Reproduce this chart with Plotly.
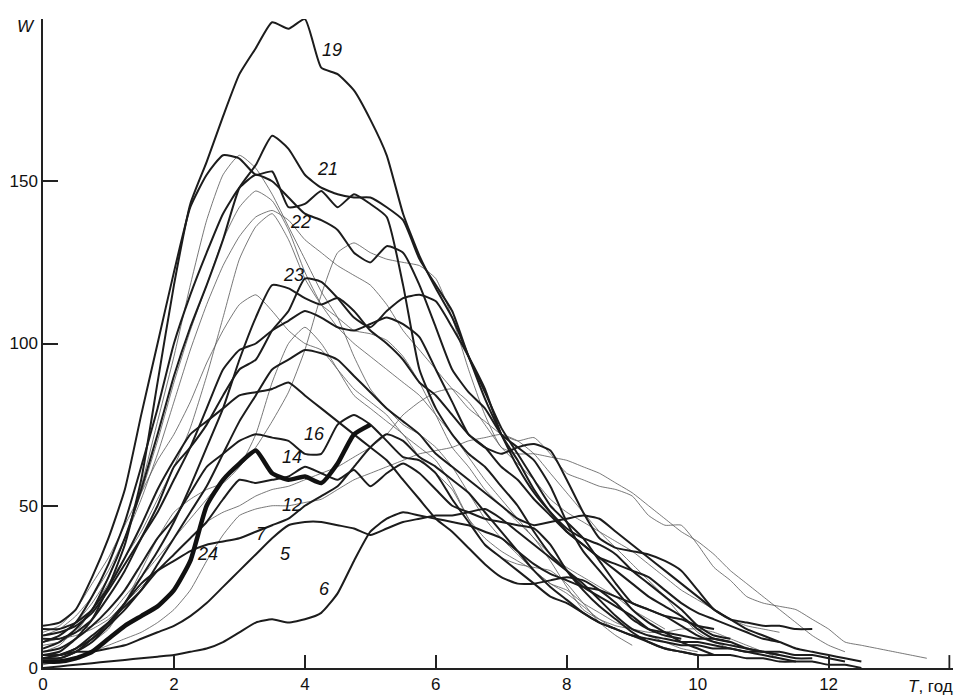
import numpy as np
import plotly.graph_objects as go

# Sampling step of the curves (years)
T_STEP = 0.25

# Wolf number W for each cycle, sampled every T_STEP years from cycle minimum
w1 = [8, 9, 10, 12, 15, 20, 25, 30, 35, 40, 45, 48, 50, 53, 55, 56, 58, 60, 62, 65, 68, 72, 78, 82, 85, 86, 82, 75, 68, 63, 58, 52, 48, 45, 42, 39, 36, 32, 28, 24, 21, 18, 15, 13, 12, 11]
w2 = [11, 13, 18, 26, 34, 44, 54, 64, 72, 82, 94, 104, 112, 115, 110, 104, 100, 98, 92, 86, 82, 78, 72, 68, 64, 56, 46, 38, 34, 32, 31, 30, 26, 20, 14, 10, 7]
w3 = [8, 10, 14, 20, 28, 40, 56, 76, 96, 118, 138, 152, 158, 154, 146, 136, 126, 116, 108, 96, 86, 80, 75, 72, 68, 62, 54, 46, 40, 35, 30, 26, 23, 19, 15, 12, 10]
w4 = [10, 12, 16, 22, 30, 40, 52, 66, 82, 98, 112, 124, 133, 139, 141, 138, 132, 128, 124, 121, 118, 112, 104, 98, 92, 86, 80, 76, 72, 70, 71, 66, 60, 58, 56, 55, 53, 47, 44, 44, 38, 31, 27, 22, 20, 19, 18, 15, 12, 8, 7, 6, 5, 4, 3]
w5 = [4, 4, 5, 5, 6, 7, 9, 11, 13, 16, 20, 25, 30, 35, 40, 44, 45, 45, 44, 43, 41, 43, 45, 46, 47, 47, 48, 49, 46, 42, 38, 34, 30, 26, 21, 16, 12, 10, 9, 8, 8, 7, 6, 5, 4, 3, 2, 2, 1, 1, 0]
w6 = [0, 0.5, 1, 1.5, 2, 2.5, 3, 3.5, 4, 5, 6, 8, 11, 14, 15, 14, 15, 17, 23, 33, 42, 46, 48, 47, 46, 45, 44, 42, 40, 36, 32, 29, 27, 25, 24, 22, 20, 18, 16, 13, 10, 8, 7, 6, 5, 5, 4, 4, 3, 2]
w7 = [1, 2, 3, 5, 7, 9, 11, 14, 18, 24, 33, 41, 47, 49, 50, 50, 51, 52, 55, 58, 60, 62, 64, 66, 67, 68, 70, 71, 72, 70, 66, 60, 54, 48, 42, 37, 32, 27, 22, 16, 11, 8, 6]
w8 = [7, 8, 11, 18, 28, 40, 54, 70, 88, 104, 118, 132, 142, 147, 144, 135, 122, 112, 105, 100, 96, 92, 88, 84, 78, 72, 65, 58, 52, 46, 40, 35, 31, 28, 25, 22, 18, 15, 12]
w9 = [8, 9, 11, 13, 16, 22, 28, 34, 40, 46, 52, 58, 62, 68, 76, 85, 98, 115, 128, 131, 128, 126, 125, 124, 120, 108, 92, 78, 68, 66, 66, 65, 64, 62, 60, 57, 54, 50, 46, 42, 39, 35, 30, 26, 22, 18, 14, 10, 7, 5]
w10 = [3, 4, 6, 10, 14, 19, 24, 32, 40, 48, 56, 66, 76, 84, 92, 95, 98, 97, 95, 90, 85, 80, 76, 72, 66, 62, 58, 54, 50, 46, 44, 45, 46, 47, 46, 42, 38, 34, 30, 26, 22, 18, 15, 12, 10, 8]
w11 = [5, 7, 12, 18, 26, 34, 42, 52, 62, 74, 90, 108, 126, 136, 140, 132, 120, 112, 108, 104, 103, 101, 96, 88, 78, 68, 62, 55, 50, 45, 40, 33, 25, 18, 15, 13, 12, 11, 11, 12, 12, 11, 9, 7, 5, 3]
w12 = [3, 3, 5, 9, 14, 20, 26, 30, 33, 36, 38, 39, 40, 42, 44, 46, 50, 53, 56, 62, 68, 72, 70, 65, 62, 58, 54, 48, 42, 36, 30, 25, 21, 17, 14, 12, 10, 9, 8, 7, 7, 6, 6, 5, 5, 4]
w13 = [6, 8, 12, 18, 25, 34, 44, 55, 64, 72, 76, 80, 84, 85, 86, 88, 84, 80, 76, 72, 68, 64, 58, 52, 46, 42, 37, 32, 28, 26, 26, 27, 28, 27, 24, 20, 15, 12, 11, 10, 9, 9, 8, 6, 5, 4, 3, 3]
w14 = [3, 3, 5, 8, 13, 18, 24, 30, 35, 40, 45, 52, 58, 57, 58, 59, 62, 60, 58, 61, 56, 60, 63, 60, 55, 50, 48, 46, 45, 44, 43, 38, 30, 24, 19, 15, 11, 8, 6, 5, 4, 4, 4, 3, 3, 2, 2]
w15 = [2, 3, 5, 8, 12, 20, 30, 40, 48, 52, 55, 57, 62, 72, 88, 100, 105, 100, 92, 84, 80, 76, 72, 65, 60, 55, 46, 40, 36, 33, 30, 26, 24, 20, 17, 14, 12, 10, 8, 6, 5]
w16 = [5, 6, 9, 13, 18, 24, 32, 40, 46, 54, 62, 66, 70, 72, 71, 70, 66, 66, 75, 78, 75, 70, 65, 64, 60, 52, 45, 38, 34, 30, 26, 22, 20, 17, 14, 12, 10, 8, 6, 5, 4]
w17 = [4, 4, 6, 9, 13, 20, 28, 36, 45, 56, 68, 80, 95, 108, 118, 117, 114, 112, 114, 110, 104, 100, 95, 88, 84, 78, 72, 68, 62, 58, 52, 47, 42, 38, 34, 30, 26, 22, 19, 16, 12, 9, 8]
w18 = [8, 10, 14, 22, 32, 45, 62, 80, 100, 115, 128, 140, 148, 152, 150, 145, 140, 138, 135, 128, 125, 130, 128, 118, 105, 92, 85, 80, 72, 68, 64, 56, 45, 36, 30, 24, 18, 14, 11, 8, 6, 4]
w19 = [4, 5, 9, 15, 25, 38, 58, 88, 118, 143, 156, 170, 183, 191, 199, 197, 200, 185, 183, 178, 169, 158, 140, 127, 117, 108, 96, 83, 72, 62, 54, 48, 43, 40, 38, 35, 30, 26, 22, 18, 13, 10, 9]
w20 = [10, 11, 13, 17, 24, 32, 40, 48, 58, 68, 80, 92, 98, 100, 104, 107, 110, 108, 105, 104, 106, 108, 106, 102, 92, 82, 72, 68, 66, 68, 69, 67, 58, 48, 40, 37, 36, 35, 33, 30, 24, 18, 15, 14, 13, 13, 12, 12]
w21 = [12, 12, 14, 18, 28, 40, 55, 72, 90, 105, 118, 132, 148, 155, 164, 160, 152, 148, 146, 145, 145, 142, 138, 126, 118, 110, 96, 85, 74, 66, 58, 50, 45, 40, 33, 26, 20, 18, 16, 15, 13, 12]
w22 = [13, 14, 18, 28, 40, 55, 78, 100, 122, 142, 152, 158, 157, 152, 153, 142, 143, 147, 142, 146, 143, 139, 118, 92, 80, 72, 66, 62, 56, 50, 42, 35, 30, 25, 22, 19, 16, 12, 10, 9]
w23 = [9, 9, 11, 15, 22, 30, 40, 50, 62, 68, 75, 84, 92, 95, 104, 110, 120, 119, 114, 108, 105, 110, 114, 115, 113, 105, 96, 86, 72, 64, 55, 48, 42, 38, 34, 32, 30, 28, 24, 20, 17, 15, 13, 11, 9, 8, 6, 5, 4, 3, 2]
w24 = [2, 2, 3, 5, 9, 13, 16, 19, 24, 33, 50, 58, 63, 67, 60, 58, 59, 57, 63, 72, 75]

cycles = [w1, w2, w3, w4, w5, w6, w7, w8, w9, w10, w11, w12,
          w13, w14, w15, w16, w17, w18, w19, w20, w21, w22, w23, w24]
thin_cycles = [1, 2, 3, 4, 7, 8, 9, 11, 15]

# Curve labels: text, T, W
label_text = ["19", "21", "22", "23", "16", "14", "12", "7", "5", "24", "6"]
label_t = [4.42, 4.35, 3.93, 3.82, 4.15, 3.80, 3.80, 3.34, 3.70, 2.51, 4.30]
label_w = [190.5, 153.8, 137.5, 121.0, 72.0, 65.0, 50.2, 41.3, 35.2, 35.2, 24.5]

x_ticks = [0, 2, 4, 6, 8, 10, 12]
x_ticktext = ["0", "2", "4", "6", "8", "10", "12"]
x_end = 13.9
y_ticks = [0, 50, 100, 150, 200]
y_ticktext = ["0", "50", "100", "150", ""]

FONT = "Arial, Liberation Sans, sans-serif"

fig = go.Figure()
order = [c for c in range(1, 25) if c in thin_cycles] + [c for c in range(1, 25) if c not in thin_cycles]
for n in order:
    w = cycles[n - 1]
    t = np.arange(len(w)) * T_STEP
    if n == 24:
        width, color = 4.5, "#111111"
    elif n in thin_cycles:
        width, color = 0.8, "#555555"
    else:
        width, color = 2.0, "#1c1c1c"
    fig.add_trace(go.Scatter(x=t, y=w, mode="lines", name=str(n),
                             line=dict(color=color, width=width, shape="spline", smoothing=0.5),
                             showlegend=False, hoverinfo="skip"))

for txt, tx, wy in zip(label_text, label_t, label_w):
    fig.add_annotation(x=tx, y=wy, text="<i>" + txt + "</i>", showarrow=False,
                       font=dict(family=FONT, size=18, color="#111111"),
                       xanchor="center", yanchor="middle")

fig.add_annotation(xref="paper", yref="paper", x=0, y=1, text="<i>W</i>", showarrow=False,
                   font=dict(family=FONT, size=17, color="#111111"),
                   xanchor="center", yanchor="middle", xshift=-17, yshift=-7)
fig.add_annotation(xref="x", yref="paper", x=13.55, y=0, text="<i>T</i>, год", showarrow=False,
                   font=dict(family=FONT, size=17, color="#111111"),
                   xanchor="center", yanchor="middle", yshift=-18)

# end-of-axis tick mark (paper coordinates, just inside the right edge of the axis)
fig.add_shape(type="line", xref="paper", yref="paper", x0=0.996, x1=0.996,
              y0=0, y1=13 / 653, line=dict(color="#222222", width=1.8))

fig.update_layout(
    width=957, height=698,
    margin=dict(l=43, r=4, t=19, b=26),
    paper_bgcolor="white", plot_bgcolor="white",
    font=dict(family=FONT, size=17, color="#111111"),
    xaxis=dict(range=[0, x_end], tickvals=x_ticks, ticktext=x_ticktext,
               ticks="inside", ticklen=13, tickwidth=1.5, tickcolor="#222222",
               showline=True, linewidth=1.5, linecolor="#222222",
               showgrid=False, zeroline=False, fixedrange=True),
    yaxis=dict(range=[0, 200], tickvals=y_ticks, ticktext=y_ticktext,
               ticks="inside", ticklen=15, tickwidth=1.5, tickcolor="#222222",
               showline=True, linewidth=1.5, linecolor="#222222",
               showgrid=False, zeroline=False, fixedrange=True),
)

fig.write_html("out.html", config={"displayModeBar": False},
               post_script="document.body.style.margin='0';document.body.style.overflow='hidden';")
